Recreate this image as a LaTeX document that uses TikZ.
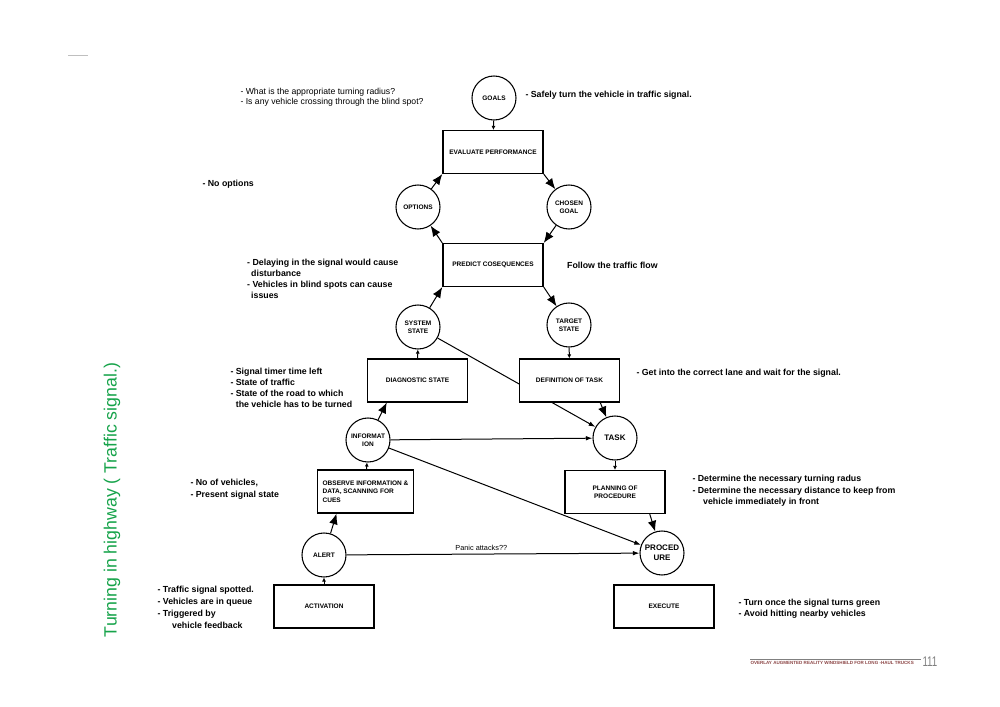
\documentclass[tikz,border=0pt]{standalone}
\usepackage{fontspec}
\setmainfont{Liberation Sans}
\usetikzlibrary{arrows.meta,backgrounds}

\definecolor{titlegreen}{RGB}{22,163,74}
\definecolor{footred}{RGB}{140,70,70}

\tikzset{every picture/.style={line width=0.75pt}}

\begin{document}
\begin{tikzpicture}[x=0.75pt,y=0.75pt,yscale=-1,xscale=1,
  stage/.style={draw,line width=1.1pt,fill=white,minimum width=75pt,minimum height=32pt,inner sep=1pt,align=center,font=\fontsize{4.9}{6.2}\selectfont\bfseries},
  state/.style={draw,circle,line width=0.8pt,fill=white,minimum size=33pt,inner sep=0pt,align=center,font=\fontsize{4.9}{6.2}\selectfont\bfseries},
  note/.style={anchor=north west,inner sep=0pt,align=left,font=\fontsize{6.6}{8.4}\selectfont\bfseries},
  bigtip/.style={-{Latex[length=8pt,width=6.5pt]}},
  midtip/.style={-{Latex[length=5pt,width=3.5pt]}},
  smalltip/.style={-{Latex[length=3pt,width=3pt]}}]
\useasboundingbox (0,0) rectangle (1000,707);

%Straight Lines (page mark)
\draw [color=lightgray,line width=0.6pt] (68,55) -- (88,55) ;

%Shape: Circle
\node[state] (goals) at (494,98) {GOALS};
%Shape: Rectangle
\node[stage] (eval) at (493,152) {EVALUATE PERFORMANCE};
\node[state] (options) at (418,207) {OPTIONS};
\node[state] (chosen) at (569,207) {CHOSEN\\GOAL};
\node[stage] (predict) at (493,265) {PREDICT COSEQUENCES};
\node[state] (sys) at (418,327) {SYSTEM\\STATE};
\node[state] (target) at (569,325) {TARGET\\STATE};
\node[stage] (diag) at (417.5,380.5) {DIAGNOSTIC STATE};
\node[stage] (deftask) at (569.5,380.5) {DEFINITION OF TASK};
\node[state] (info) at (368,440) {INFORMAT\\ION};
\node[state,font=\fontsize{6}{7.4}\selectfont\bfseries] (task) at (615,438) {TASK};
\node[stage,minimum width=68pt,inner xsep=4pt,align=left] (observe) at (365.5,491.5) {OBSERVE INFORMATION \&\\DATA, SCANNING FOR\\CUES};
\node[stage] (planning) at (615,492) {PLANNING OF\\PROCEDURE};
\node[state] (alert) at (324,555) {ALERT};
\node[state,font=\fontsize{6}{7.4}\selectfont\bfseries] (proc) at (662,553) {PROCED\\URE};
\node[stage] (activation) at (324,606.5) {ACTIVATION};
\node[stage] (execute) at (664,606.5) {EXECUTE};

%Straight Lines
\draw[smalltip] (goals) -- (eval) ;
\draw[bigtip] (options) -- (eval.south west) ;
\draw[bigtip] (eval.south east) -- (chosen) ;
\draw[bigtip] (chosen) -- (predict.north east) ;
\draw[bigtip] (predict.north west) -- (options) ;
\draw[bigtip] (sys) -- (predict.south west) ;
\draw[bigtip] (predict.south east) -- (target) ;
\draw[smalltip] (diag) -- (sys) ;
\draw[smalltip] (target) -- (deftask) ;
\begin{scope}[on background layer]
\draw[midtip,line width=0.75pt] (sys) -- (task) ;
\end{scope}
\draw[bigtip] ([xshift=-15pt]deftask.south east) -- (task) ;
\draw[bigtip] (info) -- ([xshift=15pt]diag.south west) ;
\draw[midtip] (info) -- (task) ;
\draw[midtip] (info) -- (proc) ;
\draw[smalltip] (observe) -- (info) ;
\draw[bigtip] (alert) -- ([xshift=15pt]observe.south west) ;
\draw[midtip] (alert) -- node[pos=0.46,above,inner sep=2pt,font=\fontsize{5.5}{6.5}\selectfont] (panic) {Panic attacks??} (proc) ;
\draw[smalltip] (activation) -- (alert) ;
\draw[smalltip] (task) -- (planning) ;
\draw[bigtip] ([xshift=-12pt]planning.south east) -- (proc) ;

% Text Node
\node[note,font=\fontsize{6.5}{7.5}\selectfont] (questions) at (240,88) {- What is the appropriate turning radius?\\- Is any vehicle crossing through the blind spot?};
% Text Node
\node[note,anchor=west] (safely) at (525,95) {- Safely turn the vehicle in traffic signal.};
% Text Node
\node[note,anchor=west] (nooptions) at (202,184) {- No options};
% Text Node
\node[note] (delaying) at (246.7,258.5) {- Delaying in the signal would cause\\\hspace*{3pt}disturbance\\- Vehicles in blind spots can cause\\\hspace*{3pt}issues};
% Text Node
\node[note,anchor=west] (follow) at (566.7,265.7) {Follow the traffic flow};
% Text Node
\node[note] (signal) at (230,367.5) {- Signal timer time left\\- State of traffic\\- State of the road to which\\\hspace*{4pt}the vehicle has to be turned};
% Text Node
\node[note,anchor=west] (getinto) at (636,373) {- Get into the correct lane and wait for the signal.};
% Text Node
\node[note] (novehicles) at (190,479) {- No of vehicles,\\- Present signal state};
% Text Node
\node[note,font=\fontsize{6.6}{8.8}\selectfont\bfseries] (spotted) at (157,586) {- Traffic signal spotted.\\- Vehicles are in queue\\- Triggered by\\\hspace*{11pt}vehicle feedback};
% Text Node
\node[note] (determine) at (692,475) {- Determine the necessary turning radus\\- Determine the necessary distance to keep from\\\hspace*{8pt}vehicle immediately in front};
% Text Node
\node[note] (turnonce) at (738,598.5) {- Turn once the signal turns green\\- Avoid hitting nearby vehicles};

% Text Node
\node[rotate=90,inner sep=0pt,text=titlegreen,font=\fontsize{13.3}{15}\selectfont] (title) at (112,500) {Turning in highway ( Traffic signal.)};

%Straight Lines (footer)
\draw [color=gray,line width=0.5pt] (750,659) -- (921,659) ;
% Text Node
\node[anchor=west,inner sep=0pt,text=footred,font=\fontsize{3.4}{4}\selectfont\bfseries] (footer) at (750,663) {OVERLAY AUGMENTED REALITY WINDSHIELD FOR LONG -HAUL TRUCKS};
% Text Node
\node[anchor=west,inner sep=0pt,text=gray,font=\fontsize{10.5}{12}\selectfont] (pageno) at (922,662) {\scalebox{0.7}[1]{111}};

\end{tikzpicture}
\end{document}
